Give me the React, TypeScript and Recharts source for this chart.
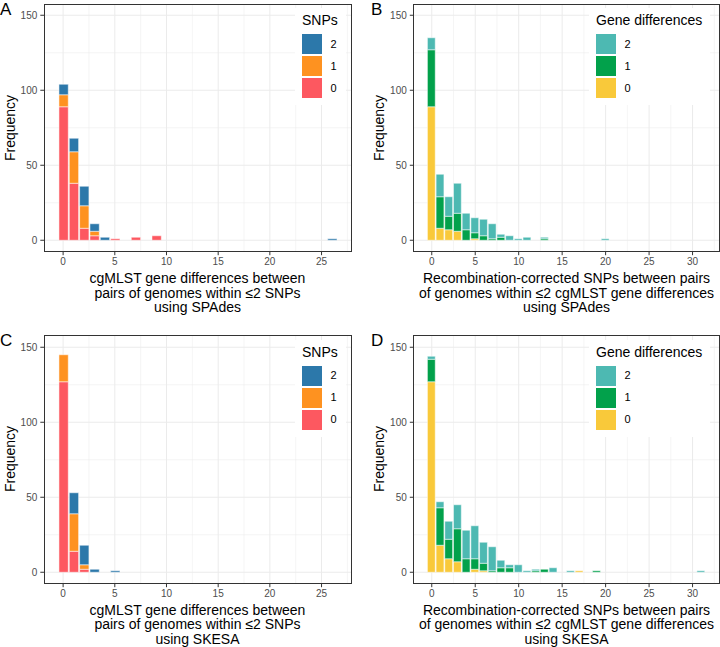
import React from 'react';
import { BarChart, Bar, XAxis, YAxis, CartesianGrid } from 'recharts';

const FONT = '"Liberation Sans", Arial, Helvetica, sans-serif';

// ---- Panel A: cgMLST gene differences within <=2 SNPs (SPAdes), stacked by SNPs
const xGene = [0, 1, 2, 3, 4, 5, 6, 7, 8, 9, 10, 11, 12, 13, 14, 15, 16, 17, 18, 19, 20, 21, 22, 23, 24, 25, 26];
const aSnp0 = [89, 38, 8, 3, 0, 1, 0, 2, 0, 3, 0, 0, 0, 0, 0, 0, 0, 0, 0, 0, 0, 0, 0, 0, 0, 0, 0];
const aSnp1 = [8, 21, 15, 3, 0, 0, 0, 0, 0, 0, 0, 0, 0, 0, 0, 0, 0, 0, 0, 0, 0, 0, 0, 0, 0, 0, 0];
const aSnp2 = [7, 9, 13, 5, 2, 0, 0, 0, 0, 0, 0, 0, 0, 0, 0, 0, 0, 0, 0, 0, 0, 0, 0, 0, 0, 0, 1];

// ---- Panel C: same, SKESA
const cSnp0 = [127, 14, 2, 0, 0, 0, 0, 0, 0, 0, 0, 0, 0, 0, 0, 0, 0, 0, 0, 0, 0, 0, 0, 0, 0, 0, 0];
const cSnp1 = [18, 25, 3, 0, 0, 0, 0, 0, 0, 0, 0, 0, 0, 0, 0, 0, 0, 0, 0, 0, 0, 0, 0, 0, 0, 0, 0];
const cSnp2 = [0, 14, 13, 2, 0, 1, 0, 0, 0, 0, 0, 0, 0, 0, 0, 0, 0, 0, 0, 0, 0, 0, 0, 0, 0, 0, 0];

// ---- Panel B: recombination-corrected SNPs within <=2 gene differences (SPAdes)
const xSnp = [0, 1, 2, 3, 4, 5, 6, 7, 8, 9, 10, 11, 12, 13, 14, 15, 16, 17, 18, 19, 20, 21, 22, 23, 24, 25, 26, 27, 28, 29, 30, 31];
const bGene0 = [89, 8, 7, 6, 0, 1, 0, 0, 0, 0, 0, 0, 0, 0, 0, 0, 0, 0, 0, 0, 0, 0, 0, 0, 0, 0, 0, 0, 0, 0, 0, 0];
const bGene1 = [38, 21, 9, 12, 7, 4, 3, 1, 2, 0, 0, 0, 0, 1, 0, 0, 0, 0, 0, 0, 0, 0, 0, 0, 0, 0, 0, 0, 0, 0, 0, 0];
const bGene2 = [8, 15, 13, 20, 11, 10, 11, 10, 2, 3, 1, 2, 0, 1, 0, 0, 0, 0, 0, 0, 1, 0, 0, 0, 0, 0, 0, 0, 0, 0, 0, 0];

// ---- Panel D: same, SKESA
const dGene0 = [127, 18, 9, 7, 0, 2, 1, 0, 0, 0, 0, 0, 0, 0, 0, 0, 0, 1, 0, 0, 0, 0, 0, 0, 0, 0, 0, 0, 0, 0, 0, 0];
const dGene1 = [15, 25, 13, 22, 9, 7, 5, 1, 3, 3, 0, 0, 1, 2, 0, 0, 0, 0, 0, 1, 0, 0, 0, 0, 0, 0, 0, 0, 0, 0, 0, 0];
const dGene2 = [2, 4, 12, 16, 19, 22, 14, 16, 5, 2, 5, 1, 1, 0, 3, 0, 1, 0, 0, 0, 0, 0, 0, 0, 0, 0, 0, 0, 0, 0, 0, 1];

// ---- Axes
const yTicks = [0, 50, 100, 150];
const yMinor = [25, 75, 125];
const yDomain = [-7.5, 157.5];
const xTicksGene = [0, 5, 10, 15, 20, 25];
const xMinorGene = [2.5, 7.5, 12.5, 17.5, 22.5, 27.5];
const xDomainGene = [-1.85, 27.85];
const xTicksSnp = [0, 5, 10, 15, 20, 25, 30];
const xMinorSnp = [2.5, 7.5, 12.5, 17.5, 22.5, 27.5, 32.5];
const xDomainSnp = [-2.1, 33.1];

const snpColors = ['#FD5860', '#FE9220', '#2C78AA'];
const geneColors = ['#F9C93A', '#02A14B', '#4DB9B2'];
const legendLabels = ['0', '1', '2'];

const build = (xs: number[], s0: number[], s1: number[], s2: number[]) =>
  xs.map((x, i) => ({ x, s0: s0[i], s1: s1[i], s2: s2[i] }));

type PanelProps = {
  left: number;
  top: number;
  yAxisW: number;
  marginRight: number;
  rows: any[];
  domain: number[];
  ticks: number[];
  minor: number[];
  colors: string[];
  legendTitle: string;
  legendBox: { left: number; top: number; width: number; height: number };
  title: string[];
  letter: string;
  letterLeft: number;
  yLabelX: number;
};

function Panel(p: PanelProps) {
  const plotLeft = p.left + p.yAxisW;
  const plotTop = p.top + 4;
  const plotW = 360 - p.yAxisW - p.marginRight;
  const plotH = 247.5;
  const barSize = plotW / (p.domain[1] - p.domain[0]);
  const tickStyle = { fill: '#4D4D4D', fontSize: 10, fontFamily: FONT };
  const lb = p.legendBox;
  return (
    <>
      <div style={{ position: 'absolute', left: p.left, top: p.top }}>
        <BarChart
          width={360}
          height={272}
          data={p.rows}
          margin={{ top: 4, right: p.marginRight, bottom: 0, left: 0 }}
          barCategoryGap={0}
          barGap={0}
        >
          <CartesianGrid stroke="#EBEBEB" strokeWidth={0.5} verticalValues={p.minor} horizontalValues={yMinor} />
          <CartesianGrid stroke="#EBEBEB" strokeWidth={1} verticalValues={p.ticks} horizontalValues={yTicks} />
          <XAxis
            dataKey="x"
            type="number"
            domain={p.domain}
            allowDataOverflow
            ticks={p.ticks}
            interval={0}
            tickSize={3.7}
            tickMargin={3}
            axisLine={false}
            tickLine={{ stroke: '#333333' }}
            tick={tickStyle}
            height={20.5}
          />
          <YAxis
            type="number"
            domain={yDomain}
            allowDataOverflow
            ticks={yTicks}
            interval={0}
            tickSize={3.7}
            tickMargin={3}
            axisLine={false}
            tickLine={{ stroke: '#333333' }}
            tick={tickStyle}
            width={p.yAxisW}
          />
          {['s0', 's1', 's2'].map((k, i) => (
            <Bar
              key={k}
              dataKey={k}
              stackId="a"
              fill={p.colors[i]}
              stroke="#FFFFFF"
              strokeWidth={0.5}
              barSize={barSize}
              isAnimationActive={false}
            />
          ))}
        </BarChart>
      </div>
      {/* panel border */}
      <div
        style={{
          position: 'absolute',
          left: plotLeft - 0.5,
          top: plotTop - 0.5,
          width: plotW + 1,
          height: plotH + 1,
          border: '1px solid #333333',
          boxSizing: 'border-box',
          pointerEvents: 'none',
        }}
      />
      {/* legend */}
      <div
        style={{
          position: 'absolute',
          left: lb.left,
          top: lb.top,
          width: lb.width,
          height: lb.height,
          background: '#FFFFFF',
        }}
      >
        <div
          style={{
            position: 'absolute',
            left: 7,
            top: 5.2,
            fontSize: 14,
            lineHeight: '14px',
            whiteSpace: 'nowrap',
            color: '#000',
          }}
        >
          {p.legendTitle}
        </div>
        {[2, 1, 0].map((lvl, j) => (
          <div
            key={lvl}
            style={{ position: 'absolute', left: 6, top: 25.3 + j * 22, height: 22, display: 'flex', alignItems: 'center' }}
          >
            <div
              style={{
                width: 22,
                height: 22,
                boxSizing: 'border-box',
                border: '1px solid #FFFFFF',
                background: p.colors[lvl],
              }}
            />
            <div style={{ marginLeft: 7.5, fontSize: 11, lineHeight: '11px', color: '#000' }}>{legendLabels[lvl]}</div>
          </div>
        ))}
      </div>
      {/* x title */}
      <div
        style={{
          position: 'absolute',
          left: plotLeft + plotW / 2 - 180,
          width: 360,
          top: plotTop + plotH + 19.5,
          textAlign: 'center',
          fontSize: 14,
          lineHeight: '14.5px',
          color: '#000',
        }}
      >
        {p.title.map((t, i) => (
          <div key={i}>{t}</div>
        ))}
      </div>
      {/* y title */}
      <div
        style={{
          position: 'absolute',
          left: p.yLabelX - 60,
          top: plotTop + plotH / 2 - 10,
          width: 120,
          height: 20,
          lineHeight: '20px',
          textAlign: 'center',
          fontSize: 14,
          transform: 'rotate(-90deg)',
          color: '#000',
        }}
      >
        Frequency
      </div>
      {/* panel letter */}
      <div
        style={{
          position: 'absolute',
          left: p.letterLeft,
          top: p.top + 0.8,
          fontSize: 17,
          lineHeight: '17px',
          color: '#000',
        }}
      >
        {p.letter}
      </div>
    </>
  );
}

export default function App() {
  const rowsA = build(xGene, aSnp0, aSnp1, aSnp2);
  const rowsC = build(xGene, cSnp0, cSnp1, cSnp2);
  const rowsB = build(xSnp, bGene0, bGene1, bGene2);
  const rowsD = build(xSnp, dGene0, dGene1, dGene2);
  const rowTop2 = 331.5;
  return (
    <div
      style={{
        position: 'relative',
        width: 720,
        height: 647,
        overflow: 'hidden',
        background: '#FFFFFF',
        fontFamily: FONT,
      }}
    >
      <style>{'body{margin:0;}'}</style>
      <Panel
        left={0}
        top={0}
        yAxisW={44}
        marginRight={9}
        rows={rowsA}
        domain={xDomainGene}
        ticks={xTicksGene}
        minor={xMinorGene}
        colors={snpColors}
        legendTitle="SNPs"
        legendBox={{ left: 295, top: 8, width: 51, height: 97 }}
        title={['cgMLST gene differences between', 'pairs of genomes within \u22642 SNPs', 'using SPAdes']}
        letter="A"
        letterLeft={0}
        yLabelX={9.5}
      />
      <Panel
        left={360}
        top={0}
        yAxisW={53.5}
        marginRight={0.5}
        rows={rowsB}
        domain={xDomainSnp}
        ticks={xTicksSnp}
        minor={xMinorSnp}
        colors={geneColors}
        legendTitle="Gene differences"
        legendBox={{ left: 589, top: 8, width: 121, height: 97 }}
        title={[
          'Recombination-corrected SNPs between pairs',
          'of genomes within \u22642 cgMLST gene differences',
          'using SPAdes',
        ]}
        letter="B"
        letterLeft={371}
        yLabelX={379}
      />
      <Panel
        left={0}
        top={rowTop2}
        yAxisW={44}
        marginRight={9}
        rows={rowsC}
        domain={xDomainGene}
        ticks={xTicksGene}
        minor={xMinorGene}
        colors={snpColors}
        legendTitle="SNPs"
        legendBox={{ left: 295, top: 8 + rowTop2, width: 51, height: 97 }}
        title={['cgMLST gene differences between', 'pairs of genomes within \u22642 SNPs', 'using SKESA']}
        letter="C"
        letterLeft={0}
        yLabelX={9.5}
      />
      <Panel
        left={360}
        top={rowTop2}
        yAxisW={53.5}
        marginRight={0.5}
        rows={rowsD}
        domain={xDomainSnp}
        ticks={xTicksSnp}
        minor={xMinorSnp}
        colors={geneColors}
        legendTitle="Gene differences"
        legendBox={{ left: 589, top: 8 + rowTop2, width: 121, height: 97 }}
        title={[
          'Recombination-corrected SNPs between pairs',
          'of genomes within \u22642 cgMLST gene differences',
          'using SKESA',
        ]}
        letter="D"
        letterLeft={371}
        yLabelX={379}
      />
    </div>
  );
}
